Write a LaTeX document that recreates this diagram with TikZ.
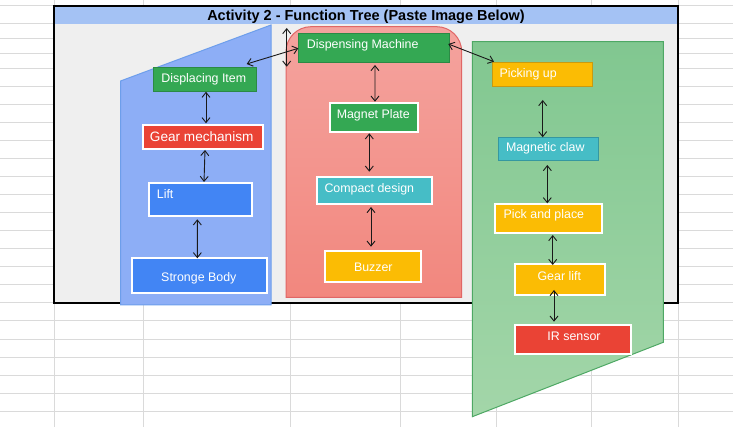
\documentclass[tikz,border=0pt]{standalone}
\usepackage{fontspec}
\setmainfont{Liberation Sans}
\usetikzlibrary{arrows.meta}
\definecolor{gridc}{HTML}{DADADA}
\definecolor{panel}{HTML}{EFEFEF}
\definecolor{titlebar}{HTML}{A4C2F4}
\definecolor{gG}{HTML}{34A853}
\definecolor{gGd}{HTML}{2B8A45}
\definecolor{gR}{HTML}{EA4335}
\definecolor{gB}{HTML}{4285F4}
\definecolor{gY}{HTML}{FBBC04}
\definecolor{gYd}{HTML}{C99A10}
\definecolor{gT}{HTML}{46BDC6}
\definecolor{gTd}{HTML}{3598A0}
\definecolor{bluePoly}{HTML}{8DAEF6}
\definecolor{bluePolyD}{HTML}{6D9EEB}
\definecolor{redTop}{HTML}{F4A39E}
\definecolor{redBot}{HTML}{F2877E}
\definecolor{redEdge}{HTML}{E06666}
\definecolor{grTop}{HTML}{81C790}
\definecolor{grBot}{HTML}{A3D6A9}
\definecolor{grEdge}{HTML}{4EA864}
\tikzset{
  bx/.style={draw=white, line width=2pt, inner sep=0pt, rectangle},
  bxthin/.style={line width=1pt, inner sep=0pt, rectangle},
  tx/.style={text=white, inner sep=0pt, font=\fontsize{12.4}{14}\selectfont},
  arr/.style={line width=0.9pt, draw=black!90, {Straight Barb[length=5pt,width=8pt]}-{Straight Barb[length=5pt,width=8pt]}},
}
\begin{document}
\begin{tikzpicture}[x=1pt,y=-1pt]
\useasboundingbox (0,0) rectangle (733,427);
% spreadsheet grid
\foreach \yy in {6,24,39,54,69,87,105,123,141,159,177,195,213,231,249,267,285,303,321,339,357,375,393,411}
  \draw[gridc, line width=1pt] (0,\yy) -- (733,\yy);
\foreach \xx in {54,143,290,400,496,591,678}
  \draw[gridc, line width=1pt] (\xx,0) -- (\xx,427);
% main panel
\fill[panel] (54,6) rectangle (678,303);
\fill[titlebar] (54,6) rectangle (678,24);
\draw[black, line width=1.3pt] (54,6) rectangle (678,303);
\node[inner sep=0pt, anchor=base, font=\bfseries\fontsize{14.5}{16}\selectfont] (title) at (366,20.6) {Activity 2 - Function Tree (Paste Image Below)};
% group shapes
\draw[bluePolyD, fill=bluePoly, line width=1pt] (271,25) -- (120.5,81) -- (120.5,305) -- (271,305) -- cycle;
\draw[redEdge, line width=1pt, top color=redTop, bottom color=redBot] (286,297.3) -- (286,51.7) arc[start angle=180, end angle=270, radius=25] -- (436.7,26.7) arc[start angle=270, end angle=360, radius=25] -- (461.7,297.3) -- cycle;
\draw[grEdge, line width=1pt, top color=grTop, bottom color=grBot] (472.3,41.7) -- (663.3,41.7) -- (663.3,342.3) -- (472.3,416.7) -- cycle;
% left column boxes
\node[bxthin, draw=gGd, fill=gG, minimum width=102.4pt, minimum height=24pt] (di) at (205,79.2) {};
\node[bx, fill=gR, minimum width=120.6pt, minimum height=24.3pt] (gm) at (203,136.85) {};
\node[bx, fill=gB, minimum width=103pt, minimum height=33.6pt] (lf) at (200.2,199.5) {};
\node[bx, fill=gB, minimum width=135.3pt, minimum height=35pt] (sb) at (199.35,275.5) {};
% middle column boxes
\node[bxthin, draw=gGd, fill=gG, minimum width=150.7pt, minimum height=29pt] (dm) at (374.15,48.3) {};
\node[bx, fill=gG, minimum width=88.6pt, minimum height=29.6pt] (mp) at (374,117.5) {};
\node[bx, fill=gT, minimum width=115.6pt, minimum height=27.3pt] (cd) at (374.5,190.35) {};
\node[bx, fill=gY, minimum width=96pt, minimum height=31.3pt] (bz) at (373.3,266.65) {};
% right column boxes
\node[bxthin, draw=gYd, fill=gY, minimum width=100.6pt, minimum height=23.4pt] (pu) at (542.5,74.5) {};
\node[bxthin, draw=gTd, fill=gT, minimum width=100pt, minimum height=23pt] (mc) at (548.8,148.7) {};
\node[bx, fill=gY, minimum width=107pt, minimum height=29.3pt] (pp) at (548.8,218.35) {};
\node[bx, fill=gY, minimum width=89.4pt, minimum height=30.4pt] (gl) at (560,279.5) {};
\node[bx, fill=gR, minimum width=115.4pt, minimum height=29pt] (ir) at (573,339.5) {};
% texts
\node[tx, anchor=base] (diT) at (203.8,82.4) {Displacing Item};
\node[tx, anchor=base, font=\fontsize{13.6}{15}\selectfont] (gmT) at (201.7,141.2) {Gear mechanism};
\node[tx, anchor=base west] (lfT) at (156.7,198.8) {Lift};
\node[tx, anchor=base] (sbT) at (198.8,281.4) {Stronge Body};
\node[tx, anchor=base west] (dmT) at (306.7,49) {Dispensing Machine};
\node[tx, anchor=base] (mpT) at (373.3,118.7) {Magnet Plate};
\node[tx, anchor=base west] (cdT) at (324.3,192.4) {Compact design};
\node[tx, anchor=base] (bzT) at (373.3,272) {Buzzer};
\node[tx, anchor=base west] (puT) at (499.3,78) {Picking up};
\node[tx, anchor=base] (mcT) at (545.3,152) {Magnetic claw};
\node[tx, anchor=base west] (ppT) at (503.3,219) {Pick and place};
\node[tx, anchor=base] (glT) at (559.3,280.4) {Gear lift};
\node[tx, anchor=base] (irT) at (574,340.7) {IR sensor};
% connectors
\coordinate (va) at (286.7,28);
\coordinate (vb) at (286.7,66.7);
\draw[arr] (va) -- (vb);
\draw[arr] ([xshift=-10pt,yshift=2.7pt]di.north east) -- (dm.west);
\draw[arr] ([xshift=-1.7pt,yshift=4.3pt]dm.east) -- ([xshift=2.3pt,yshift=0.6pt]pu.north west);
\draw[arr] ([xshift=0.8pt,yshift=-1.7pt]dm.south) -- ([xshift=1pt]mp.north);
\draw[arr] ([xshift=-4.7pt]mp.south) -- ([xshift=-5.2pt,yshift=4pt]cd.north);
\draw[arr] ([xshift=-3.5pt,yshift=-2pt]cd.south) -- ([xshift=-2.3pt,yshift=3.3pt]bz.north);
\draw[arr] ([xshift=1pt]di.south) -- ([xshift=3pt,yshift=0.4pt]gm.north);
\draw[arr] ([xshift=2pt]gm.south) -- ([xshift=3.8pt,yshift=-0.3pt]lf.north);
\draw[arr] ([xshift=-2.9pt,yshift=-2pt]lf.south) -- ([xshift=-2pt,yshift=-1.3pt]sb.north);
\draw[arr] ([xshift=0.2pt,yshift=-13.3pt]pu.south) -- ([xshift=-6.1pt,yshift=-0.6pt]mc.north);
\draw[arr] ([xshift=-1.5pt,yshift=-4.3pt]mc.south) -- ([xshift=-1.5pt,yshift=-0.6pt]pp.north);
\draw[arr] ([xshift=3.9pt,yshift=-1pt]pp.south) -- ([xshift=-7.3pt,yshift=-1.7pt]gl.north);
\draw[arr] ([xshift=-6pt,yshift=5.7pt]gl.south) -- ([xshift=-19pt,yshift=2.3pt]ir.north);
\end{tikzpicture}
\end{document}
